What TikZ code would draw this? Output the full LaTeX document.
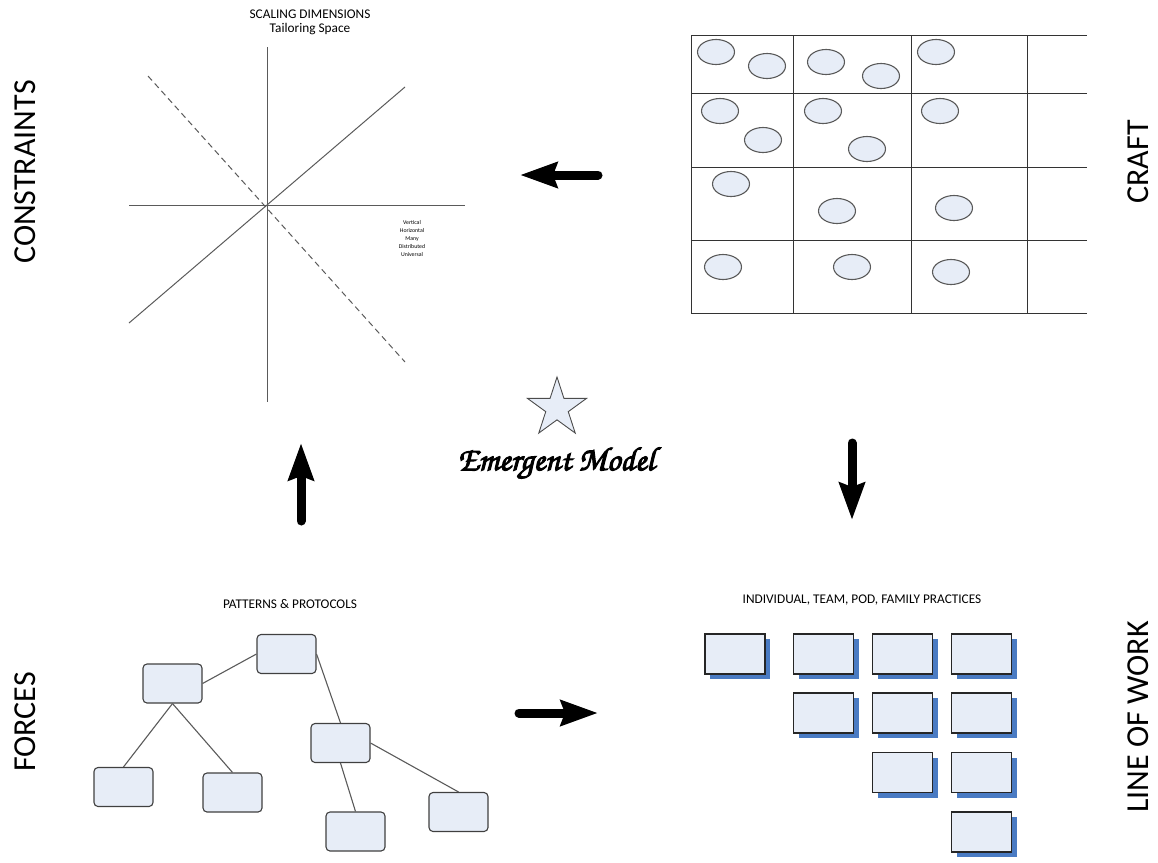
\documentclass[tikz,border=0pt]{standalone}
\usepackage{fontspec}
\setmainfont{Carlito}
\newfontfamily\chorus[FakeBold=3]{TeX Gyre Chorus}
\usetikzlibrary{arrows.meta,shapes.geometric,shadows}

\definecolor{paleblue}{HTML}{E7EDF7}
\definecolor{shadowblue}{HTML}{4A7BC3}
\definecolor{linegray}{HTML}{5A5A5A}

\tikzset{
  side/.style={font=\fontsize{32}{36}\selectfont, rotate=90, inner sep=0pt},
  caption/.style={font=\fontsize{13.3}{15}\selectfont, inner sep=0pt},
  token/.style={ellipse, draw=linegray, fill=paleblue, line width=1.1pt,
    minimum width=37pt, minimum height=25pt, inner sep=0pt},
  treebox/.style={rectangle, rounded corners=4pt, draw=black!75, fill=paleblue,
    line width=1.1pt, minimum width=59pt, minimum height=39pt, inner sep=0pt},
  treelink/.style={draw=linegray, line width=1.1pt},
  practice/.style={rectangle, draw=black!85, fill=paleblue, line width=1.1pt,
    minimum width=60pt, minimum height=40pt, inner sep=0pt,
    drop shadow={shadow xshift=5pt, shadow yshift=-5pt, fill=shadowblue, opacity=1}},
  bigarrow/.style={line width=9pt, line cap=round,
    -{Stealth[length=37pt, width=25pt, inset=4pt]}},
  axisline/.style={draw=linegray, line width=1pt},
  gridline/.style={draw=black!80, line width=0.9pt},
}

\begin{document}
\begin{tikzpicture}[x=1pt, y=-1pt]
\useasboundingbox (0,0) rectangle (1158,862);

% ---------- side labels ----------
\node[side] (constraints) at (25,172) {CONSTRAINTS};
\node[side] (craft) at (1138,162) {CRAFT};
\node[side] (forces) at (25,722) {FORCES};
\node[side] (lineofwork) at (1138,717) {LINE OF WORK};

% ---------- scaling dimensions ----------
\node[caption] (scaling) at (310,14) {SCALING DIMENSIONS};
\node[caption] (tailoring) at (310,29) {Tailoring Space};

\coordinate (vtop) at (267,47);
\coordinate (vbot) at (267,402);
\coordinate (hleft) at (129,205);
\coordinate (hright) at (465,205);
\coordinate (dlow) at (129,323);
\coordinate (dhigh) at (405,87);
\coordinate (ktop) at (148,76);
\coordinate (kbot) at (405,362);
\draw[axisline] (vtop) -- (vbot);
\draw[axisline] (hleft) -- (hright);
\draw[axisline] (dlow) -- (dhigh);
\draw[axisline, dash pattern=on 6pt off 4pt] (ktop) -- (kbot);

\node[align=center, inner sep=0pt, font=\fontsize{5.8}{8}\selectfont] (kinds) at (412,239)
  {Vertical\\Horizontal\\Many\\Distributed\\Universal};

% ---------- craft grid ----------
\draw[gridline] (691,35) -- (1087,35);
\draw[gridline] (691,93) -- (1087,93);
\draw[gridline] (691,167) -- (1087,167);
\draw[gridline] (691,240) -- (1087,240);
\draw[gridline] (691,313) -- (1087,313);
\draw[gridline] (691,35) -- (691,313);
\draw[gridline] (793,35) -- (793,313);
\draw[gridline] (911,35) -- (911,313);
\draw[gridline] (1027,35) -- (1027,313);

\node[token] (e1) at (716,52) {};
\node[token] (e2) at (767,66) {};
\node[token] (e3) at (826,62) {};
\node[token] (e4) at (881,76) {};
\node[token] (e5) at (936,52) {};
\node[token] (e6) at (720,111) {};
\node[token] (e7) at (763,140) {};
\node[token] (e8) at (823,111) {};
\node[token] (e9) at (867,149) {};
\node[token] (e10) at (940,111) {};
\node[token] (e11) at (731,184) {};
\node[token] (e12) at (837,211) {};
\node[token] (e13) at (954,208) {};
\node[token] (e14) at (723,267) {};
\node[token] (e15) at (852,267) {};
\node[token] (e16) at (951,272) {};

% ---------- emergent model ----------
\node[star, star points=5, star point ratio=2.618, minimum size=62pt, inner sep=0pt,
  draw=black!70, fill=paleblue, line width=0.9pt] (star) at (557,408) {};
\node[inner sep=0pt] (emergent) at (556,463)
  {\resizebox{197pt}{!}{\chorus Emergent Model}};

% ---------- cycle arrows ----------
\coordinate (aLtail) at (598,175);
\coordinate (aLtip) at (520,175);
\coordinate (aUtail) at (301,521);
\coordinate (aUtip) at (301,443);
\coordinate (aDtail) at (852,443);
\coordinate (aDtip) at (852,520);
\coordinate (aRtail) at (519,713);
\coordinate (aRtip) at (598,713);
\draw[bigarrow] (aLtail) -- (aLtip);
\draw[bigarrow] (aUtail) -- (aUtip);
\draw[bigarrow] (aDtail) -- (aDtip);
\draw[bigarrow] (aRtail) -- (aRtip);

% ---------- patterns & protocols ----------
\node[caption] (patterns) at (290,604) {PATTERNS \& PROTOCOLS};
\node[treebox] (t0) at (286.5,654) {};
\node[treebox] (t1) at (172.5,683.5) {};
\node[treebox] (t2) at (123.5,787) {};
\node[treebox] (t3) at (232.5,792.5) {};
\node[treebox] (t4) at (340.5,743) {};
\node[treebox] (t5) at (355.5,831.5) {};
\node[treebox] (t6) at (458.5,812) {};
\draw[treelink] (t1.east) -- (t0.west);
\draw[treelink] (t1.south) -- (t2.north);
\draw[treelink] (t1.south) -- (t3.north);
\draw[treelink] (t0.east) -- (t4.north);
\draw[treelink] (t4.south) -- (t5.north);
\draw[treelink] (t4.east) -- (t6.north);

% ---------- practices ----------
\node[caption] (practices) at (862,600) {INDIVIDUAL, TEAM, POD, FAMILY PRACTICES};
\node[practice] (p11) at (735,654) {};
\node[practice] (p12) at (823.5,654) {};
\node[practice] (p13) at (902.5,654) {};
\node[practice] (p14) at (981.5,654) {};
\node[practice] (p22) at (823.5,713) {};
\node[practice] (p23) at (902.5,713) {};
\node[practice] (p24) at (981.5,713) {};
\node[practice] (p33) at (902.5,772.5) {};
\node[practice] (p34) at (981.5,772.5) {};
\node[practice] (p44) at (981.5,832) {};
\end{tikzpicture}
\end{document}
